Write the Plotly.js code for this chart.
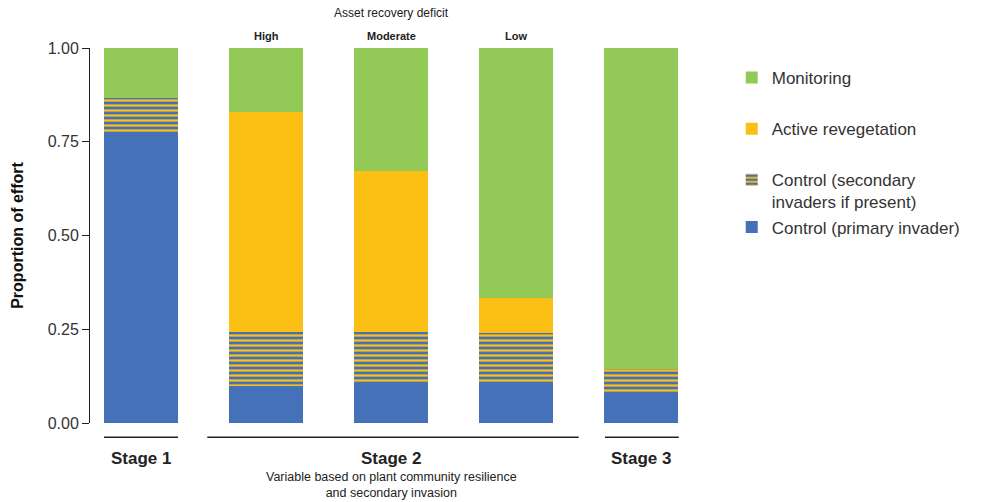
<!DOCTYPE html>
<html>
<head>
<meta charset="utf-8">
<script src="https://cdn.plot.ly/plotly-3.0.1.min.js"></script>
<style>html,body{margin:0;padding:0;background:#fff;}#chart{width:981px;height:502px;}</style>
</head>
<body>
<div id="chart"></div>
<script>
// ---- data ----
const categories = ['Stage 1', 'High', 'Moderate', 'Low', 'Stage 3'];
const primaryControl = [0.770, 0.100, 0.107, 0.107, 0.078];
const secondaryControl = [0.096, 0.143, 0.136, 0.134, 0.066];
const activeRevegetation = [0.000, 0.586, 0.428, 0.093, 0.000];
const monitoring = [0.134, 0.171, 0.329, 0.666, 0.856];
const seriesNames = ['Control (primary invader)', 'Control (secondary<br>invaders if present)', 'Active revegetation', 'Monitoring'];
const yTicks = [0, 0.25, 0.5, 0.75, 1];
const stageLabels = ['Stage 1', 'Stage 2', 'Stage 3'];
const deficitLabels = ['High', 'Moderate', 'Low'];

const BLUE = '#4571B8', YELLOW = '#FCBF14', GREEN = '#93C956';
const FONT = 'Liberation Sans, Arial, Helvetica, sans-serif';
const barW = 0.59;

const traces = [
  {type: 'bar', x: categories, y: primaryControl, name: seriesNames[0], legendgroup: 'control', legendrank: 4,
   marker: {color: BLUE, line: {width: 0}}, width: barW},
  {type: 'bar', x: categories, y: secondaryControl, name: seriesNames[1], legendgroup: 'control', legendrank: 3,
   marker: {color: BLUE, line: {width: 0},
            pattern: {shape: '-', fgcolor: YELLOW, bgcolor: BLUE, size: 5, solidity: 0.45, fillmode: 'replace'}},
   width: barW},
  {type: 'bar', x: categories, y: activeRevegetation, name: seriesNames[2], legendgroup: 'reveg', legendrank: 2,
   marker: {color: YELLOW, line: {width: 0}}, width: barW},
  {type: 'bar', x: categories, y: monitoring, name: seriesNames[3], legendgroup: 'monitor', legendrank: 1,
   marker: {color: GREEN, line: {width: 0}}, width: barW}
];

const lineY = -0.038;
const annotations = [
  {text: 'Asset recovery deficit', xref: 'x', yref: 'paper', x: 2, y: 1.092, showarrow: false,
   font: {size: 12, color: '#222', family: FONT}, yanchor: 'middle'},
  ...deficitLabels.map(l => ({text: '<b>' + l + '</b>', xref: 'x', yref: 'paper', x: l, y: 1.032,
   showarrow: false, font: {size: 11, color: '#222', family: FONT}, yanchor: 'middle'})),
  {text: '<b>' + stageLabels[0] + '</b>', xref: 'x', yref: 'paper', x: 0, y: -0.095, showarrow: false,
   font: {size: 17, color: '#222', family: FONT}, yanchor: 'middle'},
  {text: '<b>' + stageLabels[1] + '</b>', xref: 'x', yref: 'paper', x: 2, y: -0.095, showarrow: false,
   font: {size: 17, color: '#222', family: FONT}, yanchor: 'middle'},
  {text: '<b>' + stageLabels[2] + '</b>', xref: 'x', yref: 'paper', x: 4, y: -0.095, showarrow: false,
   font: {size: 17, color: '#222', family: FONT}, yanchor: 'middle'},
  {text: 'Variable based on plant community resilience<br>and secondary invasion', xref: 'x', yref: 'paper',
   x: 2, y: -0.12, showarrow: false, yanchor: 'top', align: 'center',
   font: {size: 12.5, color: '#222', family: FONT}}
];

const shapes = [
  {type: 'line', xref: 'x', yref: 'paper', x0: -0.296, x1: 0.296, y0: lineY, y1: lineY, line: {color: '#222', width: 1.3}},
  {type: 'line', xref: 'x', yref: 'paper', x0: 0.53, x1: 3.5, y0: lineY, y1: lineY, line: {color: '#222', width: 1.3}},
  {type: 'line', xref: 'x', yref: 'paper', x0: 3.71, x1: 4.3, y0: lineY, y1: lineY, line: {color: '#222', width: 1.3}}
];

const layout = {
  width: 981, height: 502,
  margin: {l: 90, r: 281, t: 48, b: 79},
  paper_bgcolor: '#fff', plot_bgcolor: '#fff',
  barmode: 'stack',
  font: {family: FONT, color: '#222'},
  xaxis: {type: 'category', range: [-0.408, 4.47], showticklabels: false, showline: false,
          showgrid: false, zeroline: false, ticks: '', fixedrange: true},
  yaxis: {range: [0, 1], tickvals: yTicks, tickformat: '.2f', showgrid: false, zeroline: false,
          showline: true, linecolor: '#222', linewidth: 1, ticks: 'outside', ticklen: 7, tickcolor: '#222',
          tickfont: {size: 16, color: '#333', family: FONT},
          title: {text: '<b>Proportion of effort</b>', font: {size: 16, color: '#111', family: FONT}, standoff: 20}},
  legend: {x: 1.052, y: 0.968, xanchor: 'left', yanchor: 'top', valign: 'top', traceorder: 'grouped',
           tracegroupgap: 26, font: {size: 17, color: '#333', family: FONT}, bgcolor: 'rgba(0,0,0,0)'},
  annotations: annotations,
  shapes: shapes,
  bargap: 0.41
};

Plotly.newPlot('chart', traces, layout, {displayModeBar: false, staticPlot: true});
</script>
</body>
</html>
